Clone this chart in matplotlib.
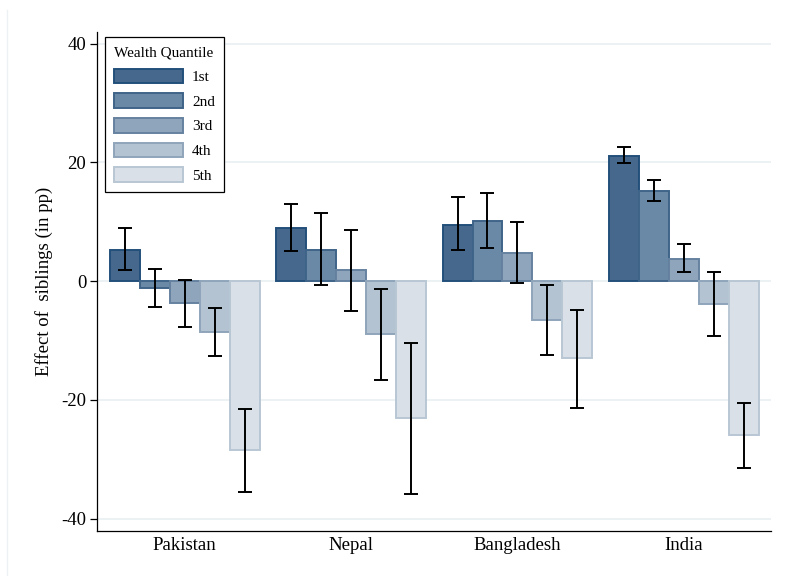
import numpy as np
import matplotlib
matplotlib.use("Agg")
import matplotlib.pyplot as plt
from matplotlib.lines import Line2D

plt.rcParams['font.family'] = ['Liberation Serif', 'DejaVu Serif']
plt.rcParams['axes.unicode_minus'] = False

countries = ["Pakistan", "Nepal", "Bangladesh", "India"]
quantiles = ["1st", "2nd", "3rd", "4th", "5th"]

# point estimates, one row per wealth quantile (columns follow countries)
effects = {
    "1st": [5.3, 9.0, 9.5, 21.0],
    "2nd": [-1.1, 5.3, 10.1, 15.2],
    "3rd": [-3.7, 1.8, 4.8, 3.8],
    "4th": [-8.5, -8.9, -6.5, -3.8],
    "5th": [-28.4, -23.0, -13.0, -25.9],
}
# 95% confidence bounds
ci_low = {
    "1st": [1.8, 5.1, 5.2, 19.8],
    "2nd": [-4.3, -0.7, 5.5, 13.5],
    "3rd": [-7.7, -5.0, -0.3, 1.5],
    "4th": [-12.7, -16.6, -12.5, -9.3],
    "5th": [-35.5, -35.8, -21.4, -31.4],
}
ci_high = {
    "1st": [8.9, 12.9, 14.2, 22.5],
    "2nd": [2.0, 11.4, 14.9, 17.0],
    "3rd": [0.2, 8.6, 9.9, 6.3],
    "4th": [-4.5, -1.4, -0.6, 1.6],
    "5th": [-21.5, -10.4, -4.8, -20.5],
}

fills = ["#45688c", "#6a89a6", "#8fa5bc", "#b4c3d1", "#d9e0e8"]
edges = ["#23507a", "#3f6489", "#6582a0", "#8fa5ba", "#b9c7d4"]

fig = plt.figure(figsize=(7.86, 5.76), dpi=100)
ax = fig.add_axes([0.124, 0.078, 0.857, 0.866])

x = np.arange(len(countries))
width = 0.18
for i, q in enumerate(quantiles):
    pos = x + (i - 2) * width
    vals = np.array(effects[q])
    lo = vals - np.array(ci_low[q])
    hi = np.array(ci_high[q]) - vals
    ax.bar(pos, vals, width, color=fills[i], edgecolor=edges[i],
           linewidth=1.4, label=q, zorder=2)
    ax.errorbar(pos, vals, yerr=[lo, hi], fmt="none", ecolor="black",
                elinewidth=1.4, capsize=5, capthick=1.4, zorder=3)

ax.set_xlim(-0.525, 3.525)
ax.set_ylim(-42.1, 41.9)
ax.set_yticks([-40, -20, 0, 20, 40])
ax.set_xticks(x)
ax.set_xticklabels(countries)
ax.tick_params(axis="x", length=0, labelsize=13.5, pad=4)
ax.tick_params(axis="y", length=5, width=0.9, labelsize=13.5, pad=3)
ax.grid(axis="y", color="#e9eff1", linewidth=1.2, zorder=0)
ax.set_axisbelow(True)
for s in ["top", "right"]:
    ax.spines[s].set_visible(False)
for s in ["left", "bottom"]:
    ax.spines[s].set_linewidth(0.9)
ax.set_ylabel("Effect of  siblings (in pp)", fontsize=13.5, labelpad=6)

leg = ax.legend(title="Wealth Quantile", loc="upper left",
                bbox_to_anchor=(0.011, 0.99), fontsize=11,
                title_fontsize=11, handlelength=4.5, handleheight=1.1,
                labelspacing=0.6, handletextpad=0.6, borderpad=0.6,
                borderaxespad=0.0, fancybox=False, edgecolor="black",
                framealpha=1)
leg._legend_box.align = "left"
leg.get_frame().set_linewidth(0.9)

# faint frame line of the graph region
fig.add_artist(Line2D([0.009, 0.009], [0.0, 0.982], color="#eef1f3",
                      linewidth=1.0))

fig.savefig("out.png", dpi=100)
